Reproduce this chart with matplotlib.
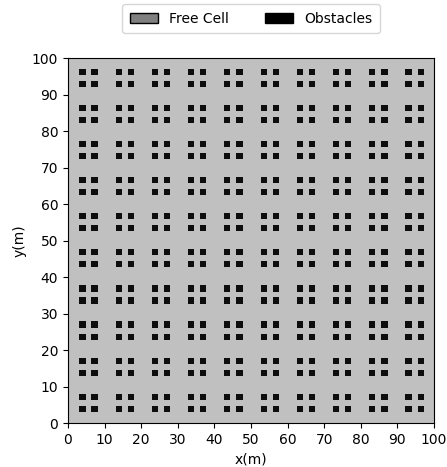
import matplotlib
matplotlib.use("Agg")
import matplotlib.pyplot as plt
from matplotlib.patches import Rectangle, Patch

# Data
block_x = [3.1, 13.0, 22.9, 32.8, 42.7, 52.6, 62.5, 72.4, 82.3, 92.2]
block_y = [3.1, 13.0, 22.9, 32.8, 42.7, 52.6, 62.5, 72.4, 82.3, 92.2]
sub_offsets = [0.0, 3.3]
obstacle_size = 1.7
map_extent = [0, 100, 0, 100]
ticks = [0, 10, 20, 30, 40, 50, 60, 70, 80, 90, 100]
legend_labels = ["Free Cell", "Obstacles"]

fig = plt.figure(figsize=(4.47, 4.67), dpi=100)
ax = fig.add_axes([0.152, 0.0936, 0.819, 0.7814])

ax.add_patch(Rectangle((map_extent[0], map_extent[2]),
                       map_extent[1] - map_extent[0],
                       map_extent[3] - map_extent[2],
                       facecolor="#c0c0c0", edgecolor="none", zorder=0))

for bx in block_x:
    for by in block_y:
        for dx in sub_offsets:
            for dy in sub_offsets:
                ax.add_patch(Rectangle((bx + dx, by + dy), obstacle_size, obstacle_size,
                                       facecolor="#0d0d0d", edgecolor="none", zorder=1))

ax.set_xlim(map_extent[0], map_extent[1])
ax.set_ylim(map_extent[2], map_extent[3])
ax.set_xticks(ticks)
ax.set_yticks(ticks)
ax.tick_params(labelsize=10)
ax.set_xlabel("x(m)", fontsize=10, labelpad=4)
ax.set_ylabel("y(m)", fontsize=10)

handles = [Patch(facecolor="#808080", edgecolor="black", label=legend_labels[0]),
           Patch(facecolor="black", edgecolor="black", label=legend_labels[1])]
ax.legend(handles=handles, loc="lower center", bbox_to_anchor=(0.5, 1.069), ncol=2,
          fontsize=10, frameon=True, columnspacing=2.6, borderpad=0.55,
          borderaxespad=0)

fig.savefig("out.png", dpi=100)
